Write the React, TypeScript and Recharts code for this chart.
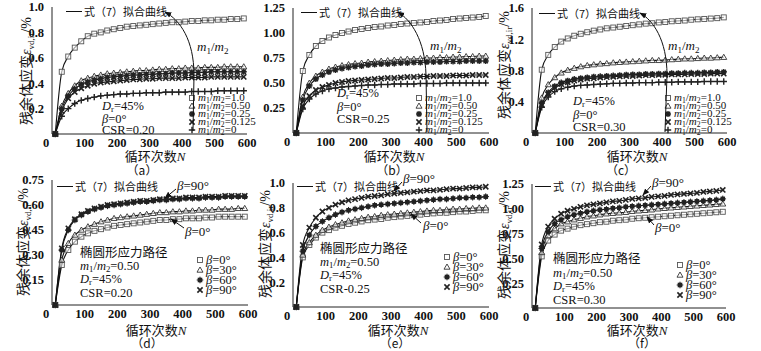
import React from 'react';
import { LineChart, Line, XAxis, YAxis } from 'recharts';

// cycle numbers where points were sampled
const CYCLES = [10, 30, 50, 70, 90, 110, 130, 150, 170, 190, 210, 230, 250, 270, 290, 310, 330, 350, 370, 390, 410, 430, 450, 470, 490, 510, 530, 550, 570, 590];
const X_TICKS = [0, 100, 200, 300, 400, 500, 600];

// (a) CSR=0.20
const A_M100 = [0, 0.49, 0.61, 0.68, 0.73, 0.77, 0.79, 0.80, 0.815, 0.825, 0.835, 0.845, 0.85, 0.855, 0.86, 0.865, 0.87, 0.875, 0.88, 0.88, 0.885, 0.89, 0.89, 0.895, 0.895, 0.90, 0.90, 0.905, 0.905, 0.91];
const A_M050 = [0, 0.22, 0.32, 0.38, 0.42, 0.44, 0.455, 0.465, 0.475, 0.48, 0.485, 0.49, 0.495, 0.50, 0.50, 0.505, 0.51, 0.51, 0.515, 0.515, 0.52, 0.52, 0.52, 0.525, 0.525, 0.525, 0.53, 0.53, 0.53, 0.53];
const A_M025 = [0, 0.20, 0.30, 0.355, 0.39, 0.41, 0.425, 0.435, 0.445, 0.45, 0.455, 0.46, 0.465, 0.465, 0.47, 0.47, 0.475, 0.475, 0.48, 0.48, 0.48, 0.485, 0.485, 0.485, 0.49, 0.49, 0.49, 0.49, 0.49, 0.49];
const A_M0125 = [0, 0.18, 0.28, 0.33, 0.36, 0.38, 0.395, 0.405, 0.41, 0.415, 0.42, 0.425, 0.43, 0.43, 0.435, 0.435, 0.44, 0.44, 0.44, 0.44, 0.445, 0.445, 0.445, 0.445, 0.45, 0.45, 0.45, 0.45, 0.45, 0.45];
const A_M0 = [0, 0.14, 0.20, 0.24, 0.265, 0.28, 0.29, 0.30, 0.305, 0.31, 0.315, 0.315, 0.32, 0.32, 0.325, 0.325, 0.325, 0.33, 0.33, 0.33, 0.33, 0.335, 0.335, 0.335, 0.335, 0.34, 0.34, 0.34, 0.34, 0.34];

// (b) CSR=0.25
const B_M100 = [0, 0.62, 0.78, 0.87, 0.92, 0.955, 0.98, 1.00, 1.015, 1.03, 1.04, 1.05, 1.06, 1.065, 1.075, 1.08, 1.09, 1.095, 1.10, 1.105, 1.11, 1.12, 1.125, 1.13, 1.14, 1.145, 1.15, 1.155, 1.16, 1.17];
const B_M050 = [0, 0.36, 0.50, 0.57, 0.61, 0.64, 0.66, 0.675, 0.685, 0.695, 0.70, 0.71, 0.715, 0.72, 0.725, 0.73, 0.735, 0.74, 0.74, 0.745, 0.75, 0.75, 0.755, 0.755, 0.76, 0.76, 0.765, 0.765, 0.77, 0.77];
const B_M025 = [0, 0.33, 0.47, 0.54, 0.58, 0.61, 0.63, 0.645, 0.655, 0.665, 0.67, 0.68, 0.685, 0.69, 0.69, 0.695, 0.70, 0.70, 0.705, 0.705, 0.71, 0.71, 0.71, 0.715, 0.715, 0.715, 0.72, 0.72, 0.72, 0.72];
const B_M0125 = [0, 0.27, 0.37, 0.43, 0.46, 0.48, 0.50, 0.51, 0.52, 0.525, 0.53, 0.535, 0.54, 0.545, 0.55, 0.55, 0.555, 0.56, 0.56, 0.565, 0.565, 0.57, 0.57, 0.57, 0.575, 0.575, 0.575, 0.58, 0.58, 0.58];
const B_M0 = [0, 0.24, 0.34, 0.39, 0.42, 0.44, 0.45, 0.46, 0.465, 0.47, 0.475, 0.48, 0.48, 0.485, 0.485, 0.49, 0.49, 0.49, 0.49, 0.495, 0.495, 0.495, 0.495, 0.50, 0.50, 0.50, 0.50, 0.50, 0.50, 0.50];

// (c) CSR=0.30
const C_M100 = [0, 0.81, 1.00, 1.10, 1.17, 1.21, 1.245, 1.27, 1.29, 1.31, 1.325, 1.34, 1.35, 1.36, 1.37, 1.38, 1.39, 1.40, 1.405, 1.415, 1.42, 1.43, 1.435, 1.44, 1.45, 1.455, 1.46, 1.465, 1.47, 1.48];
const C_M050 = [0, 0.45, 0.62, 0.71, 0.77, 0.805, 0.83, 0.85, 0.865, 0.875, 0.885, 0.89, 0.90, 0.905, 0.91, 0.915, 0.92, 0.925, 0.93, 0.93, 0.935, 0.94, 0.945, 0.95, 0.95, 0.955, 0.96, 0.96, 0.965, 0.97];
const C_M025 = [0, 0.38, 0.52, 0.60, 0.645, 0.67, 0.69, 0.70, 0.71, 0.72, 0.725, 0.73, 0.735, 0.74, 0.745, 0.75, 0.75, 0.755, 0.755, 0.76, 0.76, 0.765, 0.765, 0.77, 0.77, 0.77, 0.775, 0.775, 0.78, 0.78];
const C_M0125 = [0, 0.36, 0.50, 0.58, 0.625, 0.65, 0.67, 0.685, 0.695, 0.70, 0.71, 0.715, 0.72, 0.725, 0.73, 0.73, 0.735, 0.74, 0.74, 0.745, 0.745, 0.75, 0.75, 0.75, 0.755, 0.755, 0.755, 0.76, 0.76, 0.76];
const C_M0 = [0, 0.33, 0.46, 0.53, 0.565, 0.585, 0.60, 0.61, 0.615, 0.62, 0.625, 0.63, 0.635, 0.635, 0.64, 0.64, 0.645, 0.645, 0.645, 0.65, 0.65, 0.65, 0.655, 0.655, 0.655, 0.655, 0.66, 0.66, 0.66, 0.66];

// (d) ellipse path, CSR=0.20
const D_B0 = [0, 0.24, 0.33, 0.38, 0.41, 0.43, 0.445, 0.455, 0.465, 0.475, 0.48, 0.485, 0.49, 0.495, 0.50, 0.505, 0.51, 0.51, 0.515, 0.515, 0.52, 0.52, 0.52, 0.525, 0.525, 0.53, 0.53, 0.53, 0.53, 0.53];
const D_B30 = [0, 0.27, 0.37, 0.42, 0.45, 0.47, 0.485, 0.50, 0.51, 0.52, 0.525, 0.53, 0.535, 0.54, 0.545, 0.55, 0.555, 0.555, 0.56, 0.56, 0.565, 0.565, 0.57, 0.57, 0.57, 0.575, 0.575, 0.575, 0.58, 0.58];
const D_B60 = [0, 0.33, 0.45, 0.51, 0.54, 0.56, 0.575, 0.585, 0.595, 0.60, 0.605, 0.61, 0.615, 0.62, 0.62, 0.625, 0.63, 0.63, 0.635, 0.635, 0.64, 0.64, 0.64, 0.645, 0.645, 0.645, 0.65, 0.65, 0.65, 0.65];
const D_B90 = [0, 0.34, 0.46, 0.515, 0.545, 0.565, 0.58, 0.59, 0.60, 0.605, 0.61, 0.615, 0.62, 0.625, 0.625, 0.63, 0.635, 0.635, 0.64, 0.64, 0.645, 0.645, 0.645, 0.65, 0.65, 0.65, 0.655, 0.655, 0.655, 0.655];

// (e) ellipse path, CSR=0.25
const E_B0 = [0, 0.40, 0.50, 0.56, 0.60, 0.62, 0.64, 0.655, 0.67, 0.68, 0.69, 0.70, 0.705, 0.71, 0.72, 0.725, 0.73, 0.735, 0.74, 0.745, 0.75, 0.755, 0.76, 0.76, 0.765, 0.77, 0.77, 0.775, 0.78, 0.78];
const E_B30 = [0, 0.42, 0.52, 0.58, 0.62, 0.645, 0.665, 0.68, 0.695, 0.705, 0.715, 0.725, 0.73, 0.74, 0.745, 0.75, 0.755, 0.76, 0.765, 0.77, 0.775, 0.78, 0.78, 0.785, 0.79, 0.79, 0.795, 0.795, 0.80, 0.80];
const E_B60 = [0, 0.45, 0.58, 0.65, 0.69, 0.72, 0.745, 0.765, 0.78, 0.79, 0.80, 0.81, 0.82, 0.825, 0.83, 0.835, 0.84, 0.845, 0.85, 0.855, 0.86, 0.865, 0.87, 0.87, 0.875, 0.88, 0.88, 0.885, 0.885, 0.89];
const E_B90 = [0, 0.50, 0.64, 0.72, 0.77, 0.80, 0.825, 0.845, 0.86, 0.87, 0.88, 0.89, 0.895, 0.90, 0.91, 0.915, 0.92, 0.925, 0.93, 0.935, 0.94, 0.94, 0.945, 0.95, 0.955, 0.955, 0.96, 0.965, 0.965, 0.97];

// (f) ellipse path, CSR=0.30
const F_B0 = [0, 0.52, 0.68, 0.74, 0.78, 0.80, 0.82, 0.835, 0.845, 0.855, 0.865, 0.87, 0.88, 0.885, 0.89, 0.90, 0.905, 0.91, 0.915, 0.92, 0.925, 0.93, 0.935, 0.94, 0.945, 0.95, 0.955, 0.96, 0.965, 0.97];
const F_B30 = [0, 0.56, 0.73, 0.80, 0.85, 0.87, 0.89, 0.905, 0.92, 0.93, 0.94, 0.95, 0.955, 0.96, 0.965, 0.975, 0.98, 0.985, 0.99, 1.00, 1.005, 1.01, 1.015, 1.02, 1.025, 1.03, 1.035, 1.04, 1.045, 1.05];
const F_B60 = [0, 0.60, 0.77, 0.85, 0.89, 0.92, 0.94, 0.955, 0.97, 0.98, 0.99, 0.995, 1.005, 1.01, 1.02, 1.025, 1.03, 1.035, 1.04, 1.045, 1.05, 1.055, 1.06, 1.065, 1.07, 1.075, 1.08, 1.085, 1.09, 1.10];
const F_B90 = [0, 0.64, 0.82, 0.90, 0.95, 0.98, 1.00, 1.02, 1.035, 1.045, 1.055, 1.065, 1.075, 1.08, 1.09, 1.10, 1.105, 1.11, 1.12, 1.125, 1.13, 1.14, 1.145, 1.15, 1.155, 1.16, 1.17, 1.175, 1.18, 1.19];

const M_LABELS = ['1.0', '0.50', '0.25', '0.125', '0'];
const B_LABELS = ['0°', '30°', '60°', '90°'];
const M_SHAPES = ['square', 'triangle', 'star', 'cross', 'plus'];
const B_SHAPES = ['square', 'triangle', 'boxstar', 'cross'];

const SERIF = '"Liberation Serif", "DejaVu Serif", serif';
const CJK = '"Noto Sans CJK SC", sans-serif';

function Marker({ shape, cx, cy }: { shape: string; cx: number; cy: number }) {
  if (cx == null || cy == null) return null;
  const c = '#222';
  switch (shape) {
    case 'square':
      return <rect x={cx - 2.5} y={cy - 2.5} width={5} height={5} fill="#fff" fillOpacity={0.6} stroke="#555" strokeWidth={0.9} />;
    case 'triangle':
      return <path d={`M${cx},${cy - 3}L${cx + 3},${cy + 2.2}L${cx - 3},${cy + 2.2}Z`} fill="#fff" fillOpacity={0.6} stroke="#333" strokeWidth={0.9} />;
    case 'star':
      return (
        <path d={`M${cx - 3},${cy}H${cx + 3}M${cx},${cy - 3}V${cy + 3}M${cx - 2.2},${cy - 2.2}L${cx + 2.2},${cy + 2.2}M${cx - 2.2},${cy + 2.2}L${cx + 2.2},${cy - 2.2}`} stroke={c} strokeWidth={1.4} />
      );
    case 'boxstar':
      return (
        <g>
          <rect x={cx - 2.3} y={cy - 2.3} width={4.6} height={4.6} fill={c} />
          <path d={`M${cx - 3.3},${cy}H${cx + 3.3}M${cx},${cy - 3.3}V${cy + 3.3}`} stroke={c} strokeWidth={1} />
        </g>
      );
    case 'cross':
      return <path d={`M${cx - 2.6},${cy - 2.6}L${cx + 2.6},${cy + 2.6}M${cx - 2.6},${cy + 2.6}L${cx + 2.6},${cy - 2.6}`} stroke={c} strokeWidth={1.6} />;
    default:
      return <path d={`M${cx - 3.2},${cy}H${cx + 3.2}M${cx},${cy - 3.2}V${cy + 3.2}`} stroke={c} strokeWidth={1.4} />;
  }
}

interface PanelProps {
  plotLeft: number;
  plotRight: number;
  plotTop: number;
  plotBottom: number;
  yMax: number;
  yTicks: number[];
  digits: number;
  series: number[][];
  shapes: string[];
}

const TICK_FONT = { fontFamily: SERIF, fontWeight: 700, fontSize: 12.5, fill: '#111' };

function Panel({ plotLeft, plotRight, plotTop, plotBottom, yMax, yTicks, digits, series, shapes }: PanelProps) {
  const yW = 45;
  const xH = 25;
  const left = plotLeft - yW;
  const top = plotTop - 6;
  const width = plotRight - left + 10;
  const height = plotBottom - top + xH;
  const rows = CYCLES.map((n, i) => {
    const r: Record<string, number> = { n };
    series.forEach((s, j) => {
      r['s' + j] = s[i];
    });
    return r;
  });
  return (
    <div style={{ position: 'absolute', left, top }}>
      <LineChart width={width} height={height} data={rows} margin={{ top: 6, right: 10, bottom: 0, left: 0 }}>
        <XAxis
          type="number"
          dataKey="n"
          domain={[0, 600]}
          ticks={X_TICKS}
          interval={0}
          height={xH}
          tickLine={false}
          tickSize={3}
          tickMargin={1}
          axisLine={{ stroke: '#222', strokeWidth: 1 }}
          tick={(p: any) => (
            <text x={p.payload.value === 0 ? p.x - 6 : p.x} y={p.y} dy="0.71em" textAnchor="middle" style={TICK_FONT}>
              {p.payload.value}
            </text>
          )}
        />
        <YAxis
          type="number"
          domain={[0, yMax]}
          ticks={yTicks}
          interval={0}
          width={yW}
          tickLine={false}
          tickSize={5}
          tickMargin={3}
          axisLine={{ stroke: '#222', strokeWidth: 1 }}
          tick={(p: any) => (
            <text x={p.x} y={p.y} dy="0.35em" textAnchor="end" style={TICK_FONT}>
              {Number(p.payload.value).toFixed(digits)}
            </text>
          )}
        />
        {series.map((_, j) => (
          <Line
            key={j}
            dataKey={'s' + j}
            type="monotone"
            stroke="#111"
            strokeWidth={1.1}
            isAnimationActive={false}
            dot={(p: any) => <Marker key={p.index} shape={shapes[j]} cx={p.cx} cy={p.cy} />}
            activeDot={false}
          />
        ))}
      </LineChart>
    </div>
  );
}

function T({ x, y, size = 13, font = SERIF, center = false, bold = false, children }: any) {
  return (
    <div
      style={{
        position: 'absolute',
        left: x,
        top: y,
        transform: center ? 'translate(-50%, -50%)' : 'translateY(-50%)',
        fontFamily: font,
        fontSize: size,
        fontWeight: bold ? 700 : 400,
        lineHeight: 1,
        whiteSpace: 'nowrap',
        color: '#111',
      }}
    >
      {children}
    </div>
  );
}

const Sub = ({ children }: any) => <span style={{ fontSize: '0.7em', verticalAlign: '-0.25em' }}>{children}</span>;
const Ratio = () => (
  <>
    <i>m</i>
    <Sub>1</Sub>/<i>m</i>
    <Sub>2</Sub>
  </>
);

function YTitle({ x, y }: { x: number; y: number }) {
  return (
    <div
      style={{
        position: 'absolute',
        left: x,
        top: y,
        transform: 'translate(-50%, -50%) rotate(-90deg)',
        fontFamily: CJK,
        fontSize: 14,
        lineHeight: 1,
        whiteSpace: 'nowrap',
        color: '#111',
      }}
    >
      残余体应变<i style={{ fontFamily: SERIF }}>ε</i>
      <span style={{ fontFamily: SERIF, fontSize: 9, verticalAlign: '-0.3em' }}>vd,ir</span>
      <span style={{ fontFamily: SERIF }}>/%</span>
    </div>
  );
}

function LegendRow({ x, y, shape, size, children }: any) {
  return (
    <>
      <svg style={{ position: 'absolute', left: x - 5, top: y - 5 }} width={10} height={10}>
        <Marker shape={shape} cx={5} cy={5} />
      </svg>
      <T x={x + 6} y={y} size={size}>
        {children}
      </T>
    </>
  );
}

function FitKey({ x, y }: { x: number; y: number }) {
  return (
    <>
      <div style={{ position: 'absolute', left: x, top: y, width: 16, borderTop: '1.4px solid #111' }} />
      <T x={x + 18} y={y} size={11} font={CJK}>
        式（7）拟合曲线
      </T>
    </>
  );
}

const ROW1 = [
  { key: 'a', left: 52, right: 247, top: 7, bottom: 134, yMax: 1.0, ticks: [0.2, 0.4, 0.6, 0.8, 1.0], digits: 1, series: [A_M100, A_M050, A_M025, A_M0125, A_M0], csr: 'CSR=0.20', ann: [102, 107, 119, 130], leg: [192, 98], fit: [66, 11], ratio: [197, 48], title: [155, 156], tag: [142, 170], yTitle: [27, 71] },
  { key: 'b', left: 293, right: 489, top: 8, bottom: 133, yMax: 1.25, ticks: [0.25, 0.5, 0.75, 1.0, 1.25], digits: 2, series: [B_M100, B_M050, B_M025, B_M0125, B_M0], csr: 'CSR=0.25', ann: [337, 94, 107, 119], leg: [419, 98], fit: [301, 12], ratio: [430, 47], title: [394, 156], tag: [392, 170], yTitle: null },
  { key: 'c', left: 532, right: 727, top: 8, bottom: 133, yMax: 1.6, ticks: [0.4, 0.8, 1.2, 1.6], digits: 1, series: [C_M100, C_M050, C_M025, C_M0125, C_M0], csr: 'CSR=0.30', ann: [573, 102, 115, 127], leg: [668, 98], fit: [539, 13], ratio: [668, 47], title: [637, 156], tag: [621, 170], yTitle: [505, 65] },
];

const ROW2 = [
  { key: 'd', left: 52, right: 248, top: 180, bottom: 305, yMax: 0.75, ticks: [0.15, 0.3, 0.45, 0.6, 0.75], digits: 2, series: [D_B0, D_B30, D_B60, D_B90], csr: 'CSR=0.20', ann: [80, 252, 267, 280, 293], leg: [200, 260], fit: [57, 186], b90: [177, 185], b0: [185, 231], a90: 'M176,189 L165,198', a0: 'M184,228 L171,219', title: [156, 330], tag: [147, 343], yTitle: [24, 242] },
  { key: 'e', left: 293, right: 489, top: 183, bottom: 307, yMax: 1.0, ticks: [0.2, 0.4, 0.6, 0.8, 1.0], digits: 1, series: [E_B0, E_B30, E_B60, E_B90], csr: 'CSR-0.25', ann: [320, 248, 263, 276, 289], leg: [447, 257], fit: [297, 186], b90: [403, 178], b0: [423, 225], a90: 'M402,182 L394,191', a0: 'M421,223 L411,214', title: [398, 330], tag: [395, 343], yTitle: [266, 244] },
  { key: 'f', left: 532, right: 726, top: 184, bottom: 308, yMax: 1.25, ticks: [0.25, 0.5, 0.75, 1.0, 1.25], digits: 2, series: [F_B0, F_B30, F_B60, F_B90], csr: 'CSR=0.30', ann: [553, 258, 274, 287, 300], leg: [680, 265], fit: [535, 186], b90: [652, 182], b0: [655, 227], a90: 'M651,186 L643,195', a0: 'M654,225 L647,217', title: [637, 330], tag: [642, 343], yTitle: [505, 245] },
];

const M_ARROWS = ['M193,131 L194,75 C194,40 180,20 165,12', 'M427,132 L426,75 C425,40 411,20 398,12', 'M665,132 L667,75 C667,40 653,20 640,13'];

export default function App() {
  return (
    <div style={{ position: 'absolute', left: 0, top: 0, width: 761, height: 351, background: '#fff', overflow: 'hidden' }}>
      {ROW1.map((p) => (
        <React.Fragment key={p.key}>
          <Panel plotLeft={p.left} plotRight={p.right} plotTop={p.top} plotBottom={p.bottom} yMax={p.yMax} yTicks={p.ticks} digits={p.digits} series={p.series} shapes={M_SHAPES} />
          <FitKey x={p.fit[0]} y={p.fit[1]} />
          <T x={p.ratio[0]} y={p.ratio[1]} size={13}>
            <Ratio />
          </T>
          <T x={p.ann[0]} y={p.ann[1]} size={12.5}>
            <i>D</i>
            <Sub>r</Sub>=45%
          </T>
          <T x={p.ann[0]} y={p.ann[2]} size={12.5}>
            <i>β</i>=0°
          </T>
          <T x={p.ann[0]} y={p.ann[3]} size={12.5}>
            {p.csr}
          </T>
          {M_LABELS.map((m, i) => (
            <LegendRow key={m} x={p.leg[0]} y={p.leg[1] + i * 8} shape={M_SHAPES[i]} size={11}>
              <Ratio />={m}
            </LegendRow>
          ))}
          <T x={p.title[0]} y={p.title[1]} size={13} font={CJK} center>
            循环次数<i style={{ fontFamily: SERIF }}>N</i>
          </T>
          <T x={p.tag[0]} y={p.tag[1]} size={12} font={CJK} center>
            （{p.key}）
          </T>
          {p.yTitle && <YTitle x={p.yTitle[0]} y={p.yTitle[1]} />}
        </React.Fragment>
      ))}
      {ROW2.map((p) => (
        <React.Fragment key={p.key}>
          <Panel plotLeft={p.left} plotRight={p.right} plotTop={p.top} plotBottom={p.bottom} yMax={p.yMax} yTicks={p.ticks} digits={p.digits} series={p.series} shapes={B_SHAPES} />
          <FitKey x={p.fit[0]} y={p.fit[1]} />
          <T x={p.b90[0]} y={p.b90[1]} size={13}>
            <i>β</i>=90°
          </T>
          <T x={p.b0[0]} y={p.b0[1]} size={13}>
            <i>β</i>=0°
          </T>
          <T x={p.ann[0]} y={p.ann[1]} size={12.5} font={CJK}>
            椭圆形应力路径
          </T>
          <T x={p.ann[0]} y={p.ann[2]} size={12.5}>
            <Ratio />=0.50
          </T>
          <T x={p.ann[0]} y={p.ann[3]} size={12.5}>
            <i>D</i>
            <Sub>r</Sub>=45%
          </T>
          <T x={p.ann[0]} y={p.ann[4]} size={12.5}>
            {p.csr}
          </T>
          {B_LABELS.map((b, i) => (
            <LegendRow key={b} x={p.leg[0]} y={p.leg[1] + i * 10} shape={B_SHAPES[i]} size={12.5}>
              <i>β</i>={b}
            </LegendRow>
          ))}
          <T x={p.title[0]} y={p.title[1]} size={13} font={CJK} center>
            循环次数<i style={{ fontFamily: SERIF }}>N</i>
          </T>
          <T x={p.tag[0]} y={p.tag[1]} size={12} font={CJK} center>
            （{p.key}）
          </T>
          <YTitle x={p.yTitle[0]} y={p.yTitle[1]} />
        </React.Fragment>
      ))}
      <svg style={{ position: 'absolute', left: 0, top: 0, pointerEvents: 'none' }} width={761} height={351}>
        <defs>
          <marker id="ah" viewBox="0 0 10 10" refX="9" refY="5" markerWidth="7" markerHeight="7" orient="auto">
            <path d="M0,1 L10,5 L0,9 Z" fill="#111" />
          </marker>
        </defs>
        {M_ARROWS.map((d) => (
          <path key={d} d={d} fill="none" stroke="#111" strokeWidth={1} markerEnd="url(#ah)" />
        ))}
        {ROW2.map((p) => (
          <React.Fragment key={p.key}>
            <path d={p.a90} stroke="#111" strokeWidth={1} markerEnd="url(#ah)" />
            <path d={p.a0} stroke="#111" strokeWidth={1} markerEnd="url(#ah)" />
          </React.Fragment>
        ))}
      </svg>
    </div>
  );
}
